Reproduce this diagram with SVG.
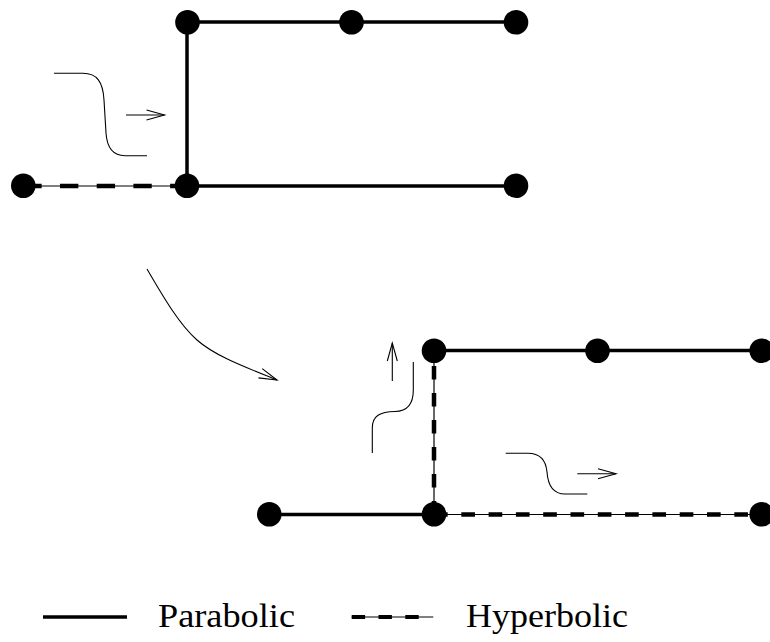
<svg xmlns="http://www.w3.org/2000/svg" width="770" height="642" viewBox="0 0 770 642">
<style>
.node{fill:#000}
.para{stroke:#000;stroke-width:3.5;fill:none}
.hyp-thin{stroke:#000;stroke-width:1.2;fill:none}
.hyp-dash{stroke:#000;stroke-width:4.5;fill:none}
.thin{stroke:#000;stroke-width:1.1;fill:none}
.arrow{stroke:#000;stroke-width:1.1;fill:none;marker-end:url(#open)}
.lbl{font-family:"Liberation Serif","Times New Roman",serif;font-size:34px;fill:#000}
</style>
<defs>
<marker id="open" markerUnits="userSpaceOnUse" markerWidth="20" markerHeight="12" refX="18" refY="5" orient="auto" overflow="visible">
<path d="M0,0 L18,5 L0,10" fill="none" stroke="#000" stroke-width="1.1"/>
</marker>
</defs>
<g id="connectors">
<!-- top graph -->
<line class="para" x1="187" y1="22" x2="516" y2="22"/>
<line class="para" x1="187" y1="22" x2="187" y2="186"/>
<line class="para" x1="187" y1="186" x2="516" y2="186"/>
<line class="hyp-thin" x1="23" y1="186" x2="187" y2="186"/>
<line class="hyp-dash" x1="23.3" y1="186" x2="187" y2="186" stroke-dasharray="18.35 18.35"/>
<!-- bottom graph -->
<line class="para" x1="434" y1="350.5" x2="762" y2="350.5"/>
<line class="para" x1="269" y1="514.5" x2="434" y2="514.5"/>
<line class="hyp-thin" x1="434" y1="514.5" x2="434" y2="350.5"/>
<line class="hyp-dash" x1="434" y1="514.5" x2="434" y2="350.5" stroke-dasharray="13.5 13.5"/>
<line class="hyp-thin" x1="434" y1="514.5" x2="762" y2="514.5"/>
<line class="hyp-dash" x1="434" y1="514.5" x2="762" y2="514.5" stroke-dasharray="13.65 13.65"/>
<!-- curves and arrows -->
<path class="thin" d="M54,73.3 H83 C97,73.3 103,82 104,100 L106,133 C107,148 113,155.7 125,155.7 H147"/>
<line class="arrow" x1="126" y1="115" x2="164.5" y2="115"/>
<path class="arrow" d="M147,269 C165,300 180,325 197,340 C215,356 245,367 277,380"/>
<path class="thin" d="M372.3,453 V428 C372.3,416 380,411.7 395,411.5 C408,411.3 413.3,404 413.3,390 V362"/>
<line class="arrow" x1="392.3" y1="381" x2="392.3" y2="343"/>
<path class="thin" d="M505.7,453.3 H528 C541,453.3 546,462 547,472 C548,486 553,494 565,494 H587.3"/>
<line class="arrow" x1="577.3" y1="473.7" x2="616" y2="473.7"/>
</g>
<g id="n1"><circle class="node" cx="187.5" cy="22.3" r="12.3"/></g>
<g id="n2"><circle class="node" cx="351.5" cy="22.3" r="12.3"/></g>
<g id="n3"><circle class="node" cx="516" cy="22.3" r="12.3"/></g>
<g id="n4"><circle class="node" cx="23.3" cy="185.7" r="12.3"/></g>
<g id="n5"><circle class="node" cx="187" cy="185.7" r="12.3"/></g>
<g id="n6"><circle class="node" cx="516" cy="185.7" r="12.3"/></g>
<g id="m1"><circle class="node" cx="434" cy="350.7" r="12.3"/></g>
<g id="m2"><circle class="node" cx="597.5" cy="350.7" r="12.3"/></g>
<g id="m3"><circle class="node" cx="761.7" cy="350.7" r="12.3"/></g>
<g id="m4"><circle class="node" cx="269.3" cy="514.3" r="12.3"/></g>
<g id="m5"><circle class="node" cx="434" cy="514.3" r="12.3"/></g>
<g id="m6"><circle class="node" cx="761.7" cy="514.3" r="12.3"/></g>
<g id="legend">
<line class="para" x1="43" y1="617" x2="127" y2="617"/>
<text class="lbl" x="158" y="627" textLength="137" lengthAdjust="spacingAndGlyphs">Parabolic</text>
<line class="hyp-thin" x1="351.7" y1="617" x2="433.3" y2="617"/>
<line class="hyp-dash" x1="351.7" y1="617" x2="420" y2="617" stroke-dasharray="13.4 13.4" style="stroke-width:4"/>
<text class="lbl" x="466" y="627" textLength="162" lengthAdjust="spacingAndGlyphs">Hyperbolic</text>
</g>
</svg>
